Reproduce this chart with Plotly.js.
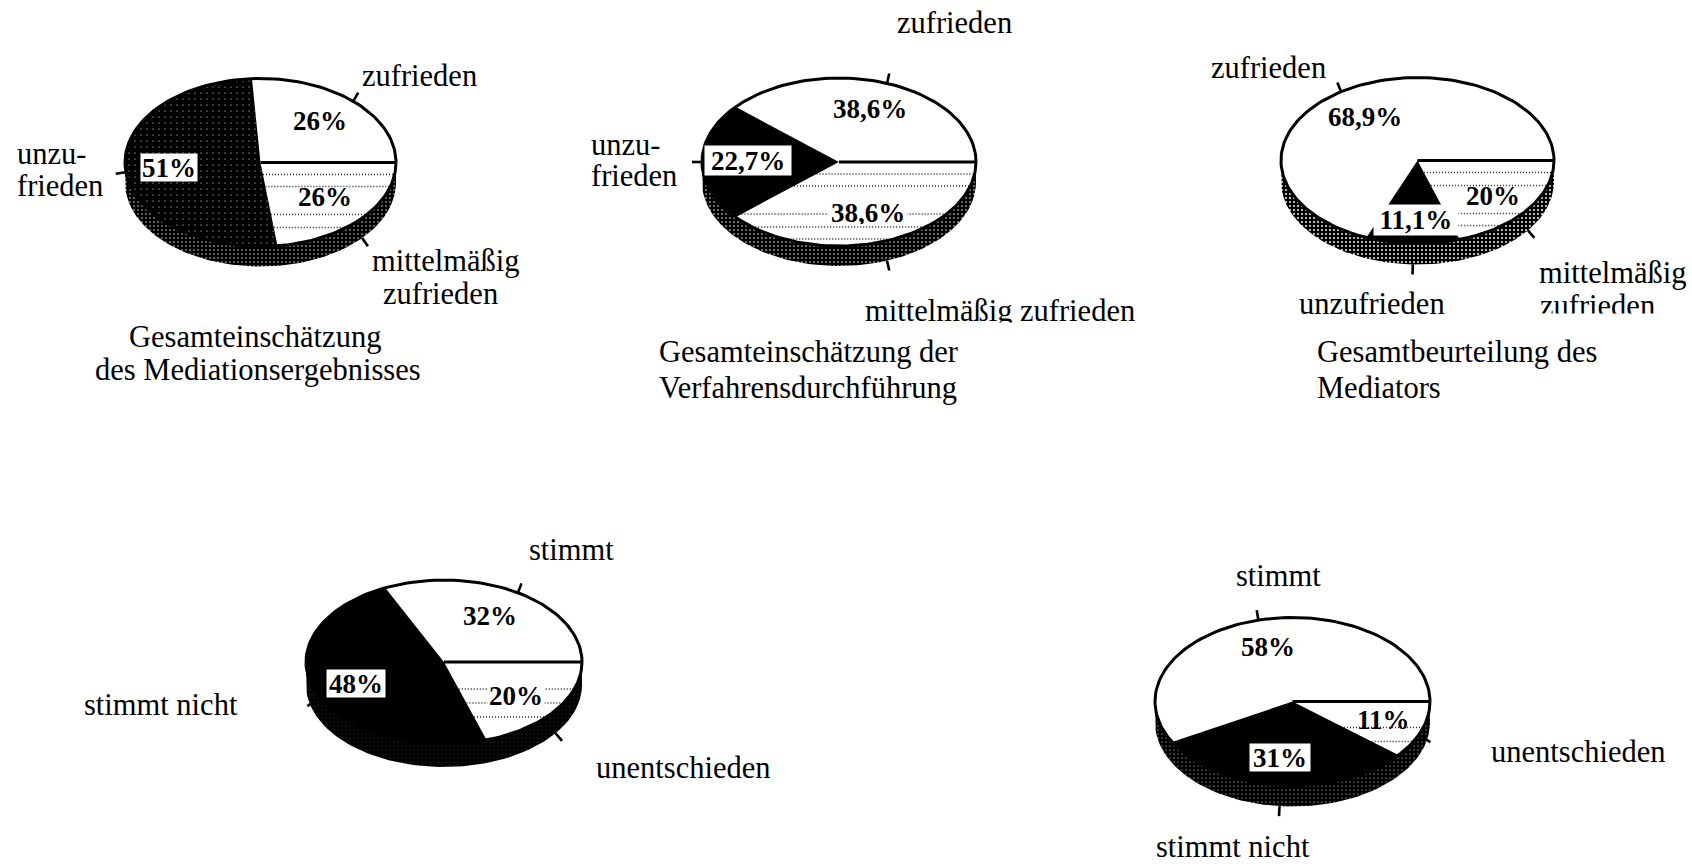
<!DOCTYPE html>
<html><head><meta charset="utf-8">
<script src="https://cdn.plot.ly/plotly-3.0.1.min.js"></script>
<style>html,body{margin:0;padding:0;background:#fff}#chart{width:1692px;height:864px}</style>
</head><body><div id="chart"></div>
<script>
// ---------- data (order: agree, disagree, middle) ----------
const pie1Categories = ['zufrieden', 'unzufrieden', 'mittelmäßig zufrieden'];
const pie1Printed = [26, 51, 26];   // printed figures (they add up to 103)
const pie1Wedges  = [26, 51, 23];   // wedge sizes as actually drawn
const pie2Categories = ['zufrieden', 'unzufrieden', 'mittelmäßig zufrieden'];
const pie2Printed = [38.6, 22.7, 38.6];
const pie2Wedges  = [38.6, 22.7, 38.6];
const pie3Categories = ['zufrieden', 'unzufrieden', 'mittelmäßig zufrieden'];
const pie3Printed = [68.9, 11.1, 20];
const pie3Wedges  = [68.9, 11.1, 20];
const pie4Categories = ['stimmt', 'stimmt nicht', 'unentschieden'];
const pie4Printed = [32, 48, 20];
const pie4Wedges  = [32, 48, 20];
const pie5Categories = ['stimmt', 'stimmt nicht', 'unentschieden'];
const pie5Printed = [58, 31, 11];
const pie5Wedges  = [58, 31, 11];

// ---------- layout / geometry (pixels of the page) ----------
const S = 1 / 0.9267; // label positions below were measured on the shrunk view
const pies = [
  {cats:pie1Categories, printed:pie1Printed, wedges:pie1Wedges, cx:260.5, cy:162.5, rx:135.5, ry:84, depth:20,
   dy:[12,24,52,65], rimDots:.09, darkDots:true,
   pct:[[297,112],[157,155],[301,183]], box:[null,[56,27],null]},
  {cats:pie2Categories, printed:pie2Printed, wedges:pie2Wedges, cx:839, cy:162, rx:137, ry:84, depth:20,
   dy:[12,24,52,65,77], rimDots:.12, darkDots:false,
   pct:[[806,101],[693,149],[804,197]], box:[null,[86,29],[78,22]]},
  {cats:pie3Categories, printed:pie3Printed, wedges:pie3Wedges, cx:1417.5, cy:160.5, rx:136.5, ry:83, depth:21,
   dy:[12,25,53,65], rimDots:.18, darkDots:false,
   pct:[[1265,108],[1312,204],[1384,182]], box:[null,[84,30],null]},
  {cats:pie4Categories, printed:pie4Printed, wedges:pie4Wedges, cx:444, cy:662, rx:138, ry:82, depth:23,
   dy:[27,41,55], rimDots:.025, darkDots:false,
   pct:[[454,571],[330,633],[478,645]], box:[null,[58,27],[56,24]]},
  {cats:pie5Categories, printed:pie5Printed, wedges:pie5Wedges, cx:1292.5, cy:701.5, rx:137.5, ry:84, depth:21,
   dy:[26,40], rimDots:.06, darkDots:false,
   pct:[[1175,600],[1186,702],[1282,667]], box:[null,[60,27],null]}
];
const captions = [
  ['zufrieden',335,70],['unzu-',16,143],['frieden',16,172],['mittelmäßig',345,242],['zufrieden',355,272],
  ['Gesamteinschätzung',120,312],['des Mediationsergebnisses',88,343],
  ['zufrieden',831,21],['unzu-',548,134],['frieden',548,163],['mittelmäßig zufrieden',802,288],
  ['Gesamteinschätzung der',611,326],['Verfahrensdurchführung',611,360],
  ['zufrieden',1122,63],['mittelmäßig',1426,253],['zufrieden',1427,284],['unzufrieden',1204,282],
  ['Gesamtbeurteilung des',1220,326],['Mediators',1220,360],
  ['stimmt',490,510],['stimmt nicht',78,653],['unentschieden',552,712],
  ['stimmt',1145,534],['unentschieden',1382,697],['stimmt nicht',1071,784.5]
];

const rad = d => d * Math.PI / 180;
// angle t in degrees, clockwise on screen from 3 o'clock
function arc(p, from, to, off) {
  const xs = [], ys = [], n = Math.max(2, Math.ceil(Math.abs(to - from) / 2));
  for (let i = 0; i <= n; i++) {
    const t = rad(from + (to - from) * i / n);
    xs.push(p.cx + p.rx * Math.cos(t));
    ys.push(p.cy + p.ry * Math.sin(t) + (off || 0));
  }
  return [xs, ys];
}
function wedge(p, from, to) {
  const [x, y] = arc(p, from, to);
  return {x:[p.cx, ...x, p.cx], y:[p.cy, ...y, p.cy]};
}
const base = {type:'scatter', mode:'lines', hoverinfo:'skip', showlegend:false};
const traces = [], annotations = [];

pies.forEach(p => {
  const sat = p.wedges[0] * 3.6, med = p.wedges[2] * 3.6;
  // side wall
  const [tx, ty] = arc(p, 0, 180);
  const [bx, by] = arc(p, 180, 0, p.depth);
  traces.push({...base, name:'Rand', x:[...tx, ...bx], y:[...ty, ...by], fill:'toself', line:{width:0, color:'#000'},
    fillcolor:'#000', fillpattern:{shape:'.', size:4, solidity:p.rimDots, fgcolor:'#fff', bgcolor:'#000'}});
  // dark slice (the remainder, between the two others)
  const dark = {...base, name:p.cats[1], ...wedge(p, med, 360 - sat), fill:'toself', fillcolor:'#000', line:{width:1, color:'#000'}};
  if (p.darkDots) dark.fillpattern = {shape:'.', size:6, solidity:.03, fgcolor:'#fff', bgcolor:'#000'};
  traces.push(dark);
  // white slices
  traces.push({...base, name:p.cats[0], ...wedge(p, -sat, 0), fill:'toself', fillcolor:'#fff', line:{width:0, color:'#fff'}});
  traces.push({...base, name:p.cats[2], ...wedge(p, 0, med), fill:'toself', fillcolor:'#fff', line:{width:0, color:'#fff'}});
  // dotted rows inside the middle slice
  const tm = rad(med);
  p.dy.forEach(d => {
    const right = p.rx * Math.sqrt(1 - (d / p.ry) ** 2);
    const yEnd = p.ry * Math.sin(tm);
    let left;
    if (med <= 90 && d > yEnd) return;
    if (d <= yEnd) left = d * (p.rx * Math.cos(tm)) / yEnd; else left = -right;
    traces.push({...base, name:'Muster', x:[p.cx + left, p.cx + right], y:[p.cy + d, p.cy + d],
      line:{width:1.6, color:'#222', dash:'1px,2px'}});
  });
  // separator and outline
  traces.push({...base, name:'Trennlinie', x:[p.cx, p.cx + p.rx], y:[p.cy, p.cy], line:{width:3, color:'#000'}});
  const [ox, oy] = arc(p, 0, 360);
  traces.push({...base, name:'Umriss', x:ox, y:oy, line:{width:3, color:'#000'}});
  // leader ticks at the middle of each slice
  const mids = [-sat / 2, (med + 360 - sat) / 2, med / 2];
  mids.forEach(m => {
    const t = rad(m), c = Math.cos(t), s = Math.sin(t);
    const off = s > .5 ? p.depth : (s > 0 ? p.depth * s : 0);
    const x0 = p.cx + p.rx * c, y0 = p.cy + p.ry * s + off;
    const nl = Math.hypot(c * p.ry, s * p.rx);
    const ux = c * p.ry / nl, uy = s * p.rx / nl;
    traces.push({...base, name:'Strich', x:[x0, x0 + ux * 10], y:[y0, y0 + uy * 10], line:{width:2.6, color:'#000'}});
  });
  // percentage labels
  p.printed.forEach((v, i) => {
    const a = {x:p.pct[i][0] * S, y:p.pct[i][1] * S, xref:'x', yref:'y', showarrow:false,
      text:String(v).replace('.', ',') + '%', borderpad:0,
      font:{family:'"Liberation Serif", serif', size:27, color:'#000', weight:'bold'}};
    if (p.box[i]) { a.bgcolor = '#fff'; a.width = p.box[i][0]; a.height = p.box[i][1]; }
    annotations.push(a);
  });
});

captions.forEach(c => annotations.push({x:c[1] * S - 2, y:c[2] * S, xref:'x', yref:'y', xanchor:'left', yanchor:'middle',
  showarrow:false, text:c[0], font:{family:'"Liberation Serif", serif', size:30.5, color:'#000'}}));

// the scan cuts off the lower edge of two captions
[[1005, 329, 300, 13], [1610, 321, 165, 14]].forEach(m => annotations.push({x:m[0], y:m[1], xref:'x', yref:'y',
  showarrow:false, text:' ', width:m[2], height:m[3], bgcolor:'#fff', borderpad:0, font:{size:8}}));

Plotly.newPlot('chart', traces, {
  width:1692, height:864, margin:{l:0, r:0, t:0, b:0}, paper_bgcolor:'#fff', plot_bgcolor:'#fff',
  showlegend:false, hovermode:false,
  xaxis:{range:[0, 1692], visible:false, fixedrange:true},
  yaxis:{range:[864, 0], visible:false, fixedrange:true},
  annotations
}, {displayModeBar:false, staticPlot:true});
</script></body></html>
